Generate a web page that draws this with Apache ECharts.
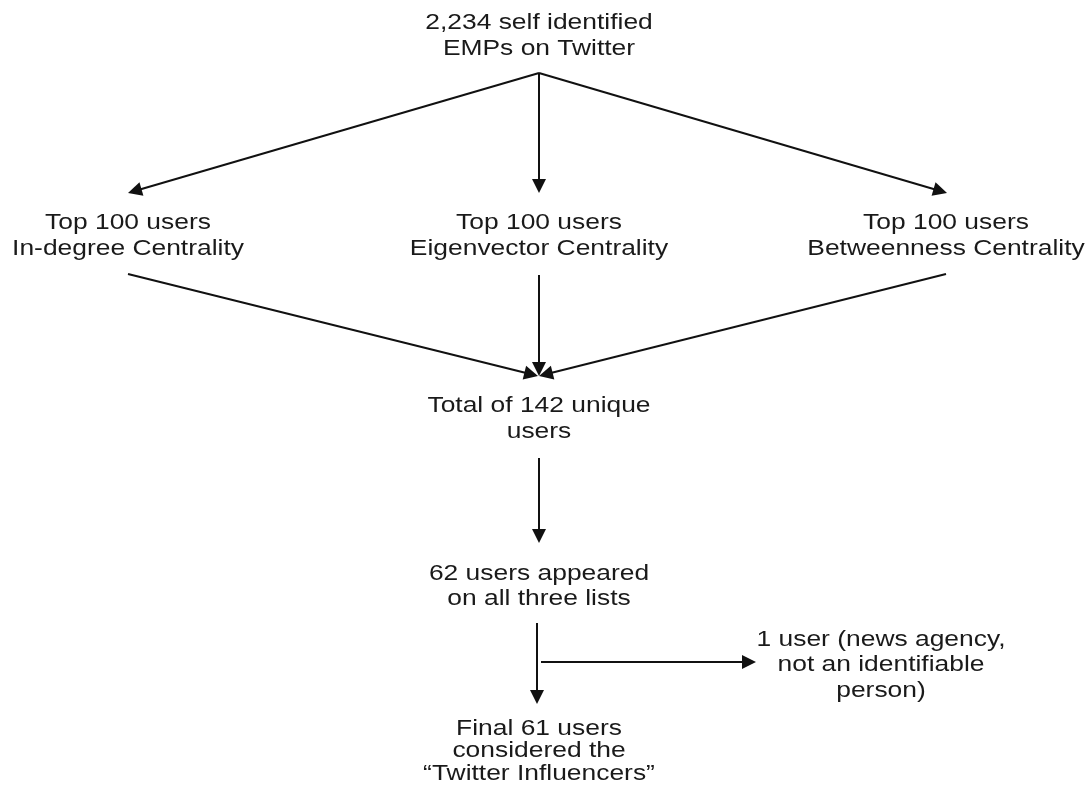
<!DOCTYPE html>
<html>
<head>
<meta charset="utf-8">
<script src="https://cdn.jsdelivr.net/npm/echarts@6/dist/echarts.min.js"></script>
<style>
html,body{margin:0;padding:0;background:#fff;}
#chart{width:1090px;height:791px;}
</style>
</head>
<body>
<div id="chart"></div>
<script>
// Flowchart boxes (text) and their centres in the diagram's coordinate space
const nodeTexts = [
  "2,234 self identified\nEMPs on Twitter",
  "Top 100 users\nIn-degree Centrality",
  "Top 100 users\nEigenvector Centrality",
  "Top 100 users\nBetweenness Centrality",
  "Total of 142 unique\nusers",
  "62 users appeared\non all three lists",
  "Final 61 users\nconsidered the\n\u201cTwitter Influencers\u201d",
  "1 user (news agency,\nnot an identifiable\nperson)"
];
const nodeX = [539, 128, 539, 946, 539, 539, 539, 881];
const nodeY = [36, 236, 236, 236, 419, 586, 751, 665];

// Connectors: start point and arrow-tip point
const edgeFrom = [[539,73],[539,73],[539,73],[128,274],[539,275],[946,274],[539,458],[537,623],[541,662]];
const edgeTo   = [[539,193],[128,193],[947,193],[538,376],[539,376],[539,376],[539,543],[537,704],[756,662]];

const layoutLineHeight = [26, 26, 26, 26, 26, 25, 22.5, 25.5];
const ARROW = 14;

const textData = nodeTexts.map((t, i) => [nodeX[i], nodeY[i], i]);
// the triangle marker is centred on the line end, so pull the end back by half a marker
const lineData = edgeFrom.map((f, i) => {
  const t = edgeTo[i];
  const dx = t[0] - f[0], dy = t[1] - f[1];
  const len = Math.sqrt(dx * dx + dy * dy);
  const k = (len - ARROW / 2) / len;
  return { coords: [f, [f[0] + dx * k, f[1] + dy * k]] };
});

const chart = echarts.init(document.getElementById('chart'), null, { renderer: 'canvas' });
chart.setOption({
  backgroundColor: '#ffffff',
  animation: false,
  grid: { left: 0, right: 0, top: 0, bottom: 0 },
  xAxis: { type: 'value', min: 0, max: 1090, show: false },
  yAxis: { type: 'value', min: 0, max: 791, inverse: true, show: false },
  series: [
    {
      type: 'lines',
      coordinateSystem: 'cartesian2d',
      symbol: ['none', 'triangle'],
      symbolSize: ARROW,
      lineStyle: { color: '#111', width: 2, opacity: 1 },
      data: lineData,
      z: 3
    },
    {
      type: 'custom',
      coordinateSystem: 'cartesian2d',
      data: textData,
      renderItem: function (params, api) {
        const p = api.coord([api.value(0), api.value(1)]);
        const idx = api.value(2);
        return {
          type: 'text',
          x: p[0],
          y: p[1],
          scaleX: 1.2,
          style: {
            text: nodeTexts[idx],
            fontFamily: 'Liberation Sans, Arial, sans-serif',
            fontSize: 22,
            lineHeight: layoutLineHeight[idx],
            fill: '#1a1a1a',
            align: 'center',
            verticalAlign: 'middle'
          }
        };
      },
      z: 4
    }
  ]
});
</script>
</body>
</html>
